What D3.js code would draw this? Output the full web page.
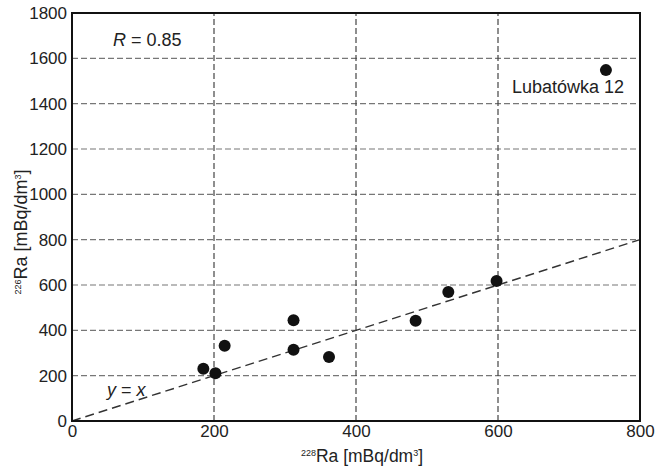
<!DOCTYPE html>
<html><head><meta charset="utf-8">
<script src="https://cdn.jsdelivr.net/npm/d3@7"></script>
<style>body{margin:0;background:#fff}text{font-family:"Liberation Sans",Arial,sans-serif;fill:#222}</style>
</head><body>
<svg id="c" width="656" height="467"></svg>
<script>
const ra228 = [185, 202, 215, 312, 312, 362, 484, 530, 598, 752];
const ra226 = [230, 211, 332, 444, 314, 282, 442, 569, 618, 1548];
const xTicks = [0, 200, 400, 600, 800];
const yTicks = [0, 200, 400, 600, 800, 1000, 1200, 1400, 1600, 1800];
const lineX = [0, 800];
const labelName = "Lubatówka 12";

const svg = d3.select("#c");
const x = d3.scaleLinear().domain([0, 800]).range([72, 640]);
const y = d3.scaleLinear().domain([0, 1800]).range([421, 13]);

// grid
svg.append("g").selectAll("line").data(yTicks.filter(d => d > 0 && d < 1800)).join("line")
  .attr("x1", x(0)).attr("x2", x(800)).attr("y1", d => y(d)).attr("y2", d => y(d))
  .attr("stroke", "#777").attr("stroke-width", 1.2).attr("stroke-dasharray", "6,3");
svg.append("g").selectAll("line").data(xTicks.filter(d => d > 0 && d < 800)).join("line")
  .attr("y1", y(0)).attr("y2", y(1800)).attr("x1", d => x(d)).attr("x2", d => x(d))
  .attr("stroke", "#444").attr("stroke-width", 1.2).attr("stroke-dasharray", "6,3");

// y = x line
svg.append("line").attr("x1", x(lineX[0])).attr("y1", y(lineX[0])).attr("x2", x(lineX[1])).attr("y2", y(lineX[1]))
  .attr("stroke", "#333").attr("stroke-width", 1.4).attr("stroke-dasharray", "9,5");

// frame
svg.append("rect").attr("x", x(0)).attr("y", y(1800)).attr("width", x(800) - x(0)).attr("height", y(0) - y(1800))
  .attr("fill", "none").attr("stroke", "#111").attr("stroke-width", 2);

const fmt = d3.format("d");
// axes labels
const xa = svg.append("g").attr("transform", `translate(0,${y(0)})`)
  .call(d3.axisBottom(x).tickValues(xTicks).tickFormat(fmt).tickSize(0).tickPadding(4));
xa.select(".domain").remove();
xa.selectAll("text").attr("font-size", 17).attr("font-family", "Liberation Sans, Arial, sans-serif").attr("fill", "#333");
const ya = svg.append("g").attr("transform", `translate(${x(0)},0)`)
  .call(d3.axisLeft(y).tickValues(yTicks).tickFormat(fmt).tickSize(0).tickPadding(5));
ya.select(".domain").remove();
ya.selectAll("text").attr("font-size", 17).attr("font-family", "Liberation Sans, Arial, sans-serif").attr("fill", "#333");

// points
svg.append("g").selectAll("circle").data(ra228.map((d, i) => [d, ra226[i]])).join("circle")
  .attr("cx", d => x(d[0])).attr("cy", d => y(d[1])).attr("r", 6).attr("fill", "#111");

// annotations
const r = svg.append("text").attr("x", 113).attr("y", 46).attr("font-size", 18).attr("fill", "#333");
r.append("tspan").attr("font-style", "italic").text("R");
r.append("tspan").text(" = 0.85");
const yx = svg.append("text").attr("x", 107).attr("y", 396).attr("font-size", 18).attr("fill", "#333");
yx.append("tspan").attr("font-style", "italic").text("y");
yx.append("tspan").text(" = ");
yx.append("tspan").attr("font-style", "italic").text("x");
svg.append("text").attr("x", 512).attr("y", 93).attr("font-size", 18).attr("fill", "#333").text(labelName);

// axis titles
const xt = svg.append("text").attr("x", 362).attr("y", 462).attr("text-anchor", "middle").attr("font-size", 17.5).attr("fill", "#333");
xt.append("tspan").attr("font-size", 9).attr("dy", -6).text("228");
xt.append("tspan").attr("dy", 6).text("Ra [mBq/dm");
xt.append("tspan").attr("font-size", 9).attr("dy", -6).text("3");
xt.append("tspan").attr("dy", 6).text("]");
const yt = svg.append("text").attr("transform", `translate(27,232) rotate(-90)`).attr("text-anchor", "middle").attr("font-size", 18).attr("fill", "#333");
yt.append("tspan").attr("font-size", 9).attr("dy", -6).text("226");
yt.append("tspan").attr("dy", 6).text("Ra [mBq/dm");
yt.append("tspan").attr("font-size", 9).attr("dy", -6).text("3");
yt.append("tspan").attr("dy", 6).text("]");
</script>
</body></html>
